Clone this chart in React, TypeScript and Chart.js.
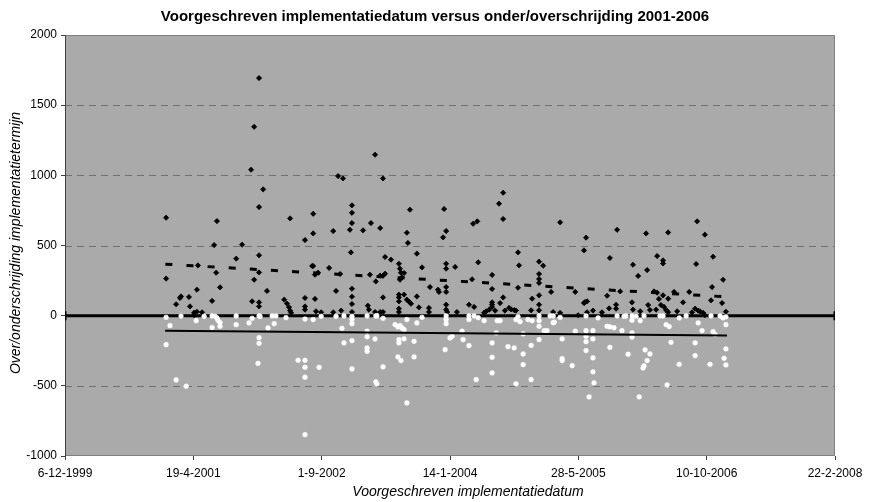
import { useEffect, useRef } from "react";
import { Chart, registerables } from "chart.js";

Chart.register(...registerables);

const chartTitle = "Voorgeschreven implementatiedatum versus onder/overschrijding 2001-2006";
const xAxisTitle = "Voorgeschreven implementatiedatum";
const yAxisTitle = "Over/onderschrijding implementatietermijn";

// Excel date serials (days) on the x axis
const xMin = 36500;
const xMax = 39500;
const xStep = 500;
const yMin = -1000;
const yMax = 2000;
const yStep = 500;
const yDashedGrid = [-500, 500, 1000, 1500];

// [date serial, days over deadline]
const overschrijding: [number, number][] = [
  [37256, 1693], [37237, 1346], [37225, 1040], [37272, 900], [37256, 774], [37564, 995], [37583, 978],
  [36894, 698], [37092, 674], [37377, 693], [37467, 726], [37618, 786], [37618, 733], [37618, 660],
  [37610, 612], [37467, 586], [37545, 603], [37435, 539], [37081, 503], [37190, 506], [37256, 430],
  [37167, 406], [37614, 451], [37708, 1147], [37739, 978], [37661, 608], [37692, 660], [37728, 624],
  [37844, 755], [37832, 591], [37836, 518], [37871, 442], [37747, 418], [37770, 399], [37977, 760],
  [37985, 603], [37973, 558], [38090, 655], [38106, 672], [38191, 798], [38207, 876], [38207, 689],
  [38265, 451], [38429, 665], [38530, 556], [38522, 465], [38651, 612], [38623, 411], [38764, 586],
  [38850, 593], [38963, 672], [38993, 577], [38959, 368], [39025, 420], [38807, 425], [38830, 394],
  [38830, 372], [38713, 363], [38733, 283], [38768, 325], [39064, 256], [39021, 204], [38612, 142],
  [38526, 97], [38663, 173], [38709, 95], [38647, 78], [38647, 50], [38620, 52], [38557, 36],
  [38592, 24], [38713, 43], [38741, 31], [38772, 76], [38779, 41], [38795, 173], [38814, 119],
  [38830, 145], [38850, 121], [38822, 76], [38834, 62], [38842, 40], [38850, 25], [38873, 169],
  [38908, 95], [38932, 169], [38955, 50], [38967, 36], [38974, 30], [38986, 20], [38943, 24],
  [39017, 109], [39060, 90], [39075, 28], [38803, 43], [38534, 24],
  [36894, 264], [36933, 81], [36948, 126], [36952, 137], [36983, 133], [36987, 66], [37014, 185],
  [37018, 358], [37034, 24], [37073, 105], [37089, 306], [37104, 202], [37256, 308], [37237, 256],
  [37229, 102], [37256, 95], [37256, 66], [37287, 176], [37354, 114], [37365, 86], [37373, 60],
  [37377, 36], [37381, 20], [37435, 126], [37435, 66], [37435, 43], [37463, 354], [37467, 354],
  [37474, 292], [37486, 306], [37474, 119], [37478, 31], [37498, 24], [37529, 340], [37556, 176],
  [37545, 24], [37576, 36], [37618, 192], [37618, 135], [37618, 83], [37618, 26], [37572, 297],
  [37688, 292], [37711, 244], [37728, 285], [37739, 285], [37747, 299], [37739, 130], [37680, 71],
  [37684, 43], [37708, 26], [37728, 26], [37739, 26], [37801, 370], [37805, 335], [37809, 306],
  [37821, 304], [37813, 273], [37805, 256], [37801, 150], [37801, 130], [37801, 102], [37801, 50],
  [37801, 26], [37821, 150], [37832, 114], [37840, 100], [37848, 85], [37891, 344], [37922, 204],
  [37871, 137], [37879, 59], [37918, 55], [37918, 26], [37953, 185], [37957, 169], [37985, 370],
  [37985, 335], [37985, 204], [37985, 169], [38020, 347], [37985, 78], [37985, 43], [37989, 26],
  [38027, 26], [38110, 380], [38086, 259], [38074, 78], [38094, 62], [38133, 21], [38141, 31],
  [38153, 43], [38164, 290], [38164, 190], [38164, 95], [38164, 78], [38164, 62], [38176, 36],
  [38195, 90], [38207, 130], [38214, 36], [38269, 358], [38265, 199], [38230, 55], [38238, 45],
  [38250, 40], [38257, 36], [38320, 121], [38316, 38], [38347, 385], [38363, 356], [38347, 297],
  [38347, 261], [38347, 233], [38347, 145], [38347, 78], [38347, 38], [38394, 169], [38402, 26],
  [38429, 20], [38488, 169], [38534, 102], [38522, 90],
  [37003, 21], [37014, 28], [38885, 31], [38807, 164], [38499, 3], [38993, 3], [37003, 3],
];

// [date serial, days under deadline]
const onderschrijding: [number, number][] = [
  [37435, -848], [36894, -12], [36909, -71], [36894, -207], [36933, -458], [36972, -503], [36952, -3],
  [37011, -36], [37042, -5], [37073, -2], [37085, -5], [37092, -16], [37096, -33], [37104, -50],
  [37073, -85], [37104, -76], [37167, -2], [37167, -64], [37217, -52], [37229, -19], [37256, -2],
  [37260, -6], [37256, -157], [37256, -197], [37252, -340], [37291, -88], [37315, -57], [37307, -2],
  [37322, -2], [37361, -14], [37408, -318], [37435, -24], [37435, -318], [37435, -368], [37435, -439],
  [37467, -28], [37490, -368], [37498, -5], [37556, -5], [37579, -90], [37587, -194], [37618, -5],
  [37618, -28], [37618, -57], [37618, -178], [37618, -380], [37587, -2], [37677, -2], [37677, -111],
  [37677, -151], [37677, -230], [37677, -254], [37708, -166], [37711, -2], [37739, -365], [37711, -472],
  [37715, -486], [37739, -19], [37786, -64], [37797, -80], [37805, -71], [37813, -88], [37821, -100],
  [37801, -171], [37801, -194], [37797, -294], [37809, -320], [37821, -166], [37832, -28], [37832, -622],
  [37860, -183], [37860, -294], [37871, -52], [37891, -12], [37985, -2], [37985, -28], [37985, -57],
  [37981, -242], [38000, -159], [38008, -147], [38047, -111], [38051, -171], [38074, -214], [38074, -2],
  [38074, -28], [38102, -456], [38094, -2], [38133, -36], [38184, -36], [38195, -36], [38164, -194],
  [38164, -297], [38164, -408], [38180, -123], [38226, -221], [38250, -230], [38257, -28], [38257, -486],
  [38285, -130], [38285, -273], [38285, -349], [38304, -28], [38320, -36], [38316, -212], [38316, -456],
  [38347, -2], [38347, -36], [38347, -76], [38347, -171], [38367, -107], [38378, -107], [38390, -2],
  [38402, -2], [38406, -47], [38437, -166], [38437, -306], [38437, -320], [38476, -356], [38488, -111],
  [38530, -2], [38530, -107], [38530, -147], [38530, -185], [38530, -249], [38557, -107], [38557, -166],
  [38557, -301], [38557, -401], [38561, -479], [38542, -579], [38577, -16], [38612, -76], [38623, -80],
  [38639, -86], [38623, -226], [38670, -107], [38651, -2], [38678, -5], [38686, -2], [38694, -275],
  [38709, -2], [38709, -33], [38709, -123], [38709, -152], [38741, -36], [38756, -2], [38760, -244],
  [38779, -273], [38768, -320], [38756, -358], [38752, -373], [38737, -579], [38818, -2], [38830, -2],
  [38842, -64], [38854, -78], [38861, -190], [38893, -16], [38893, -347], [38846, -494], [38920, -2],
  [38967, -52], [38982, -107], [38955, -194], [38955, -285], [39013, -347], [39017, -2], [39033, -135],
  [39052, -2], [39064, -16], [39075, -8], [39075, -64], [39075, -237], [39068, -304], [39075, -351],
  [38110, -14], [38265, -7], [38273, -43], [38402, -50], [38429, -12], [38725, -5], [39025, -114],
  [37715, -2],
];

// linear trend endpoints
const trendOver: [number, number][] = [[36891, 367], [39079, 134]];
const trendOnder: [number, number][] = [[36890, -107], [39079, -142]];
const nulLijn: [number, number][] = [[36500, 0], [39500, 0]];

const FONT = "'Liberation Sans', Arial, Helvetica, sans-serif";

function serialToLabel(s: number): string {
  const d = new Date(Math.round((s - 25569) * 86400000));
  return `${d.getUTCDate()}-${d.getUTCMonth() + 1}-${d.getUTCFullYear()}`;
}

const toPts = (arr: [number, number][]) => arr.map(([x, y]) => ({ x, y }));

const plotPlugin = {
  id: "plotFrame",
  beforeDatasetsDraw(chart: any) {
    const { ctx, chartArea: a, scales } = chart;
    ctx.save();
    ctx.fillStyle = "#aaaaaa";
    ctx.fillRect(a.left, a.top, a.right - a.left, a.bottom - a.top);
    ctx.strokeStyle = "#707070";
    ctx.lineWidth = 1;
    ctx.setLineDash([7, 5]);
    for (const v of yDashedGrid) {
      const y = Math.round(scales.y.getPixelForValue(v)) + 0.5;
      ctx.beginPath();
      ctx.moveTo(a.left, y);
      ctx.lineTo(a.right, y);
      ctx.stroke();
    }
    ctx.setLineDash([]);
    ctx.strokeStyle = "#808080";
    ctx.beginPath();
    ctx.moveTo(a.left, a.top + 0.5);
    ctx.lineTo(a.right - 0.5, a.top + 0.5);
    ctx.lineTo(a.right - 0.5, a.bottom - 0.5);
    ctx.lineTo(a.left, a.bottom - 0.5);
    ctx.stroke();
    ctx.strokeStyle = "#404040";
    ctx.beginPath();
    ctx.moveTo(a.left + 0.5, a.top);
    ctx.lineTo(a.left + 0.5, a.bottom);
    ctx.stroke();
    ctx.restore();
  },
  afterDraw(chart: any) {
    const { ctx } = chart;
    ctx.save();
    ctx.fillStyle = "#000";
    ctx.textAlign = "center";
    ctx.textBaseline = "middle";
    ctx.font = `bold 15px ${FONT}`;
    ctx.fillText(chartTitle, 435, 17);
    ctx.font = `italic 14px ${FONT}`;
    ctx.fillText(xAxisTitle, 468, 492);
    ctx.translate(16, 243);
    ctx.rotate(-Math.PI / 2);
    ctx.font = `italic 14px ${FONT}`;
    ctx.fillText(yAxisTitle, 0, 0);
    ctx.restore();
  },
};

export default function App() {
  const ref = useRef<HTMLCanvasElement | null>(null);

  useEffect(() => {
    if (!ref.current) return;
    Chart.defaults.font.family = FONT;
    const chart = new Chart(ref.current, {
      type: "scatter",
      data: {
        datasets: [
          {
            label: "trend over",
            data: toPts(trendOver),
            showLine: true,
            borderColor: "#000",
            borderWidth: 3,
            borderDash: [7, 14.15],
            pointRadius: 0,
            order: 1,
          },
          {
            label: "trend onder",
            data: toPts(trendOnder),
            showLine: true,
            borderColor: "#000",
            borderWidth: 2,
            pointRadius: 0,
            order: 2,
          },
          {
            label: "onderschrijding",
            data: toPts(onderschrijding),
            pointStyle: "circle",
            pointRadius: 2.4,
            backgroundColor: "#ffffff",
            borderColor: "#ffffff",
            borderWidth: 0.5,
            order: 3,
          },
          {
            label: "overschrijding",
            data: toPts(overschrijding),
            pointStyle: "rectRot",
            pointRadius: 2.6,
            backgroundColor: "#000000",
            borderColor: "#000000",
            borderWidth: 0.8,
            order: 4,
          },
          {
            label: "nul",
            data: toPts(nulLijn),
            showLine: true,
            borderColor: "#000",
            borderWidth: 3,
            pointStyle: "line",
            rotation: 90,
            pointRadius: 4.5,
            pointBorderWidth: 3,
            pointBorderColor: "#000",
            order: 5,
          },
        ],
      },
      options: {
        responsive: false,
        animation: false,
        events: [],
        layout: { padding: { left: 0, top: 35, right: 35, bottom: 0 } },
        plugins: {
          legend: { display: false },
          title: { display: false },
          tooltip: { enabled: false },
        },
        scales: {
          x: {
            type: "linear",
            min: xMin,
            max: xMax,
            border: { display: false },
            grid: {
              drawOnChartArea: false,
              drawTicks: true,
              tickLength: 4,
              tickColor: "#404040",
            },
            ticks: {
              stepSize: xStep,
              autoSkip: false,
              maxRotation: 0,
              minRotation: 0,
              padding: 6,
              color: "#000",
              font: { size: 12, family: FONT },
              callback: (v: any) => serialToLabel(Number(v)),
            },
            afterFit: (s: any) => {
              s.height = 46;
            },
          },
          y: {
            type: "linear",
            min: yMin,
            max: yMax,
            border: { display: false },
            grid: {
              drawOnChartArea: false,
              drawTicks: true,
              tickLength: 4,
              tickColor: "#404040",
            },
            ticks: {
              stepSize: yStep,
              padding: 4,
              color: "#000",
              font: { size: 12, family: FONT },
              callback: (v: any) => String(v),
            },
            afterFit: (s: any) => {
              s.width = 65;
            },
          },
        },
      },
      plugins: [plotPlugin],
    });
    return () => chart.destroy();
  }, []);

  return (
    <div style={{ position: "absolute", left: 0, top: 0, width: 870, height: 502, background: "#fff" }}>
      <canvas ref={ref} width={870} height={502} style={{ width: 870, height: 502 }} />
    </div>
  );
}
